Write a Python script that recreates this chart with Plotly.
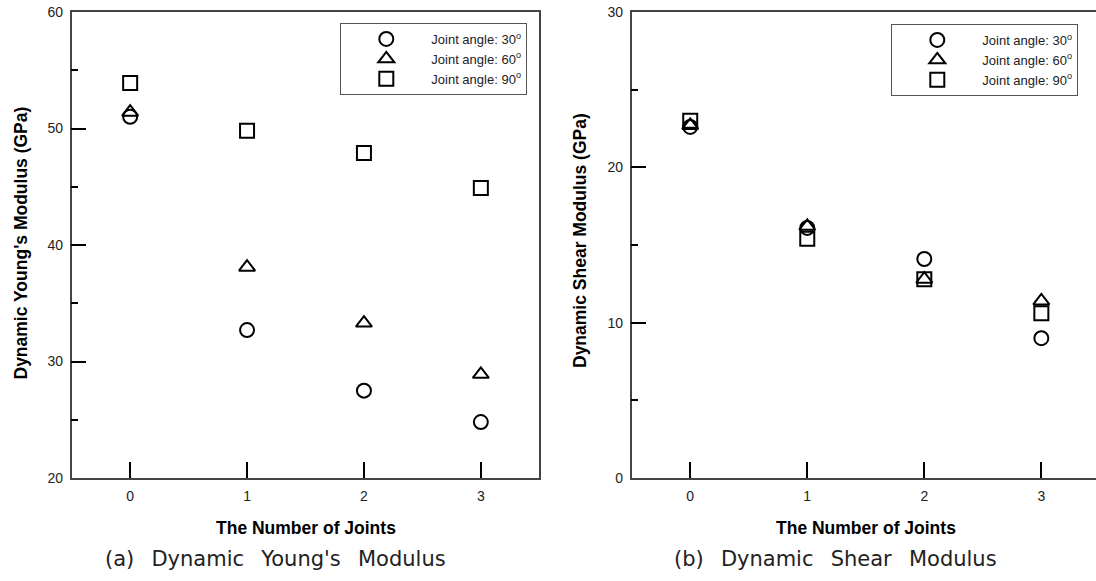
import plotly.graph_objects as go

W, H = 1096, 581

joints = [0, 1, 2, 3]
series_names = ["Joint angle: 30<sup>o</sup>", "Joint angle: 60<sup>o</sup>", "Joint angle: 90<sup>o</sup>"]
symbols = ["circle-open", "triangle-up-open", "square-open"]

young_30 = [51.0, 32.7, 27.5, 24.8]
young_60 = [51.4, 38.1, 33.3, 28.9]
young_90 = [53.9, 49.8, 47.9, 44.9]

shear_30 = [22.6, 16.1, 14.1, 9.0]
shear_60 = [22.7, 16.2, 12.8, 11.4]
shear_90 = [23.0, 15.4, 12.8, 10.6]

young_ticks = [20, 30, 40, 50, 60]
shear_ticks = [0, 10, 20, 30]


def px(x):
    return x / W


def py(y):
    return 1 - y / H


fig = go.Figure()

for vals, name, sym in zip([young_30, young_60, young_90], series_names, symbols):
    fig.add_trace(go.Scatter(
        x=joints, y=vals, mode="markers", name=name,
        marker=dict(symbol=sym, size=14, color="black", line=dict(width=2, color="black")),
        xaxis="x", yaxis="y", legend="legend",
    ))
for vals, name, sym in zip([shear_30, shear_60, shear_90], series_names, symbols):
    fig.add_trace(go.Scatter(
        x=joints, y=vals, mode="markers", name=name,
        marker=dict(symbol=sym, size=14, color="black", line=dict(width=2, color="black")),
        xaxis="x2", yaxis="y2", legend="legend2",
    ))

ydom = [py(478), py(12)]
tickfont = dict(family="Liberation Sans, Arial", size=14, color="#222")

common_x = dict(
    tickvals=joints, ticks="inside", ticklen=16, tickwidth=1.5, tickcolor="black",
    showline=True, linecolor="#444", linewidth=1.5, showgrid=False, zeroline=False,
    tickfont=tickfont, ticklabelstandoff=4, automargin=False,
)
common_y = dict(
    ticks="inside", ticklen=15, tickwidth=1.5, tickcolor="black",
    showline=True, linecolor="#444", linewidth=1.5, showgrid=False, zeroline=False,
    tickfont=tickfont, ticklabelstandoff=4, automargin=False, ticklabeloverflow="allow",
    minor=dict(dtick=5, ticks="inside", ticklen=7, tickwidth=1.5, tickcolor="black"),
)

fig.update_layout(
    width=W, height=H,
    margin=dict(l=0, r=0, t=0, b=0, autoexpand=False),
    paper_bgcolor="white", plot_bgcolor="white",
    font=dict(family="Liberation Sans, Arial", color="#222"),
    xaxis=dict(domain=[px(71.7), px(539.3)], range=[-0.5, 3.5], mirror=True, anchor="y", **common_x),
    yaxis=dict(domain=ydom, range=[20, 60], tickvals=young_ticks, dtick=10, mirror=True, anchor="x", **common_y),
    xaxis2=dict(domain=[px(631.7), 1.0], range=[-0.5, 3.467], mirror=True, anchor="y2", **common_x),
    yaxis2=dict(domain=ydom, range=[0, 30], tickvals=shear_ticks, dtick=10, mirror=False, anchor="x2", **common_y),
    legend=dict(
        x=px(527.3), y=py(23), xanchor="right", yanchor="top",
        bordercolor="#555", borderwidth=1, bgcolor="white",
        font=dict(family="Liberation Sans, Arial", size=13, color="#222"),
        itemwidth=80, tracegroupgap=0,
    ),
    legend2=dict(
        x=px(1078.3), y=py(24), xanchor="right", yanchor="top",
        bordercolor="#555", borderwidth=1, bgcolor="white",
        font=dict(family="Liberation Sans, Arial", size=13, color="#222"),
        itemwidth=80, tracegroupgap=0,
    ),
    showlegend=True,
)

title_font = dict(family="Liberation Sans, Arial", size=17.5, color="black", weight="bold")
gap = "\u2002\u00a0"
cap_font = dict(family="DejaVu Sans", size=21, color="#222")
annotations = [
    dict(text="Dynamic Young's Modulus (GPa)", x=px(20), y=py(243.5), textangle=-90, font=title_font),
    dict(text="Dynamic Shear Modulus (GPa)", x=px(580), y=py(241), textangle=-90, font=title_font),
    dict(text="The Number of Joints", x=px(305.5), y=py(527.5), font=title_font),
    dict(text="The Number of Joints", x=px(865.8), y=py(527.5), font=title_font),
    dict(text="(a)" + gap + "Dynamic" + gap + "Young's" + gap + "Modulus", x=px(275.5), y=py(559), font=cap_font),
    dict(text="(b)" + gap + "Dynamic" + gap + "Shear" + gap + "Modulus", x=px(835.8), y=py(559), font=cap_font),
]
for a in annotations:
    a.update(xref="paper", yref="paper", xanchor="center", yanchor="middle", showarrow=False)
fig.update_layout(annotations=annotations)

# Remove the browser's default 8px body margin so the figure fills the window exactly.
fig.write_html(
    "out.html",
    config={"displayModeBar": False},
    post_script="document.body.style.margin='0';document.body.style.overflow='hidden';",
)
